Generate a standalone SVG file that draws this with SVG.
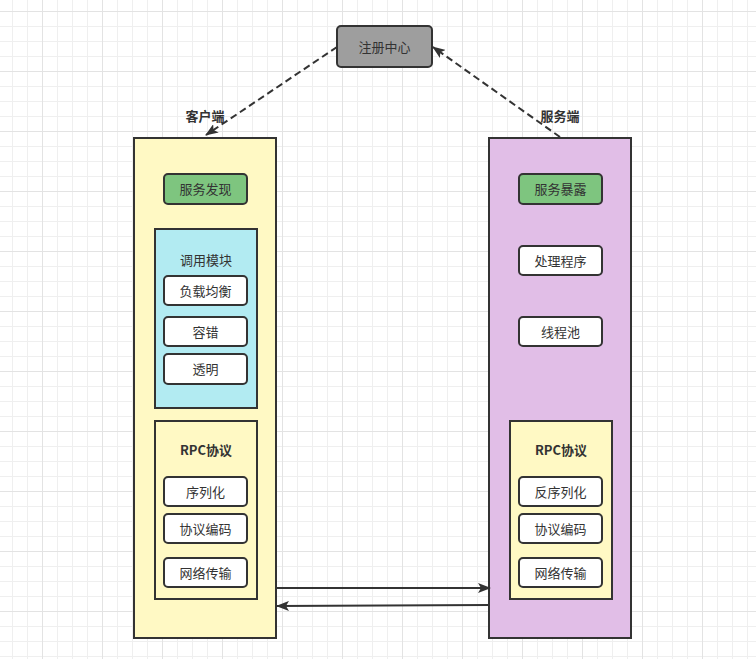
<svg xmlns="http://www.w3.org/2000/svg" width="756" height="659" viewBox="0 0 756 659">
<style>
.lbl{font-family:"Noto Sans CJK SC","Noto Sans",sans-serif;font-size:13px;fill:#333;text-anchor:middle;dominant-baseline:central}
.box{fill:#fff;stroke:#333;stroke-width:2}
.green{fill:#7ec57f;stroke:#333;stroke-width:2}
.col{stroke:#333;stroke-width:2}
.solid{fill:none;stroke:#333;stroke-width:2}
.dash{fill:none;stroke:#333;stroke-width:2;stroke-dasharray:7 4}
</style>
<defs>
<pattern id="grid" patternUnits="userSpaceOnUse" x="42" y="11" width="60" height="60">
<rect width="60" height="60" fill="#fff"/>
<g fill="#efefef">
<rect x="15" y="0" width="1" height="60"/><rect x="30" y="0" width="1" height="60"/><rect x="45" y="0" width="1" height="60"/>
<rect x="0" y="15" width="60" height="1"/><rect x="0" y="30" width="60" height="1"/><rect x="0" y="45" width="60" height="1"/>
</g>
<g fill="#e3e3e3">
<rect x="0" y="0" width="1" height="60"/><rect x="0" y="0" width="60" height="1"/>
</g>
</pattern>
<marker id="arr" viewBox="0 0 13 10" refX="12" refY="5" markerWidth="13" markerHeight="10" markerUnits="userSpaceOnUse" orient="auto">
<path d="M0,0 L13,5 L0,10 L3,5 z" fill="#333"/>
</marker>
</defs>
<rect width="756" height="659" fill="url(#grid)"/>

<g id="registry">
<rect x="337" y="26" width="95" height="41" rx="4" fill="#9e9e9e" stroke="#333" stroke-width="2"/>
<text class="lbl" x="384.5" y="46">注册中心</text>
</g>

<g id="client">
<rect class="col" x="134" y="138" width="142" height="500" fill="#fff9c4"/>
<text class="lbl" style="font-weight:bold" x="205" y="115.5">客户端</text>
</g>
<g id="client-discovery">
<rect class="green" x="164" y="174" width="83" height="30" rx="4"/>
<text class="lbl" x="205.5" y="188.5">服务发现</text>
</g>
<g id="invoke-module">
<rect x="155" y="229" width="102" height="179" fill="#b2ebf2" stroke="#333" stroke-width="2"/>
<text class="lbl" x="206" y="259.5">调用模块</text>
</g>
<g id="load-balance">
<rect class="box" x="164" y="276" width="83" height="29" rx="4"/>
<text class="lbl" x="205.5" y="290">负载均衡</text>
</g>
<g id="fault-tolerance">
<rect class="box" x="164" y="317" width="83" height="29" rx="4"/>
<text class="lbl" x="205.5" y="331">容错</text>
</g>
<g id="transparent">
<rect class="box" x="164" y="354" width="83" height="30" rx="4"/>
<text class="lbl" x="205.5" y="368.5">透明</text>
</g>
<g id="client-rpc">
<rect x="155" y="421" width="102" height="178" fill="#fff9c4" stroke="#333" stroke-width="2"/>
<text class="lbl" style="font-weight:bold" x="206" y="449.5">RPC协议</text>
</g>
<g id="serialize">
<rect class="box" x="164" y="477" width="83" height="29" rx="4"/>
<text class="lbl" x="205.5" y="491">序列化</text>
</g>
<g id="client-encode">
<rect class="box" x="164" y="514" width="83" height="29" rx="4"/>
<text class="lbl" x="205.5" y="528">协议编码</text>
</g>
<g id="client-network">
<rect class="box" x="164" y="558" width="83" height="29" rx="4"/>
<text class="lbl" x="205.5" y="572">网络传输</text>
</g>

<g id="server">
<rect class="col" x="489" y="138" width="142" height="500" fill="#e1bee7"/>
<text class="lbl" style="font-weight:bold" x="560" y="115.5">服务端</text>
</g>
<g id="server-expose">
<rect class="green" x="519" y="174" width="83" height="30" rx="4"/>
<text class="lbl" x="560.5" y="188.5">服务暴露</text>
</g>
<g id="handler">
<rect class="box" x="519" y="246" width="83" height="29" rx="4"/>
<text class="lbl" x="560.5" y="260">处理程序</text>
</g>
<g id="thread-pool">
<rect class="box" x="519" y="317" width="83" height="29" rx="4"/>
<text class="lbl" x="560.5" y="331">线程池</text>
</g>
<g id="server-rpc">
<rect x="510" y="421" width="102" height="178" fill="#fff9c4" stroke="#333" stroke-width="2"/>
<text class="lbl" style="font-weight:bold" x="561" y="449.5">RPC协议</text>
</g>
<g id="deserialize">
<rect class="box" x="519" y="477" width="83" height="29" rx="4"/>
<text class="lbl" x="560.5" y="491">反序列化</text>
</g>
<g id="server-encode">
<rect class="box" x="519" y="514" width="83" height="29" rx="4"/>
<text class="lbl" x="560.5" y="528">协议编码</text>
</g>
<g id="server-network">
<rect class="box" x="519" y="558" width="83" height="29" rx="4"/>
<text class="lbl" x="560.5" y="572">网络传输</text>
</g>

<g id="connectors">
<path class="dash" d="M337,47 L206,135" marker-end="url(#arr)"/>
<path class="dash" d="M560,137 L433,47" marker-end="url(#arr)"/>
<path class="solid" d="M277,588 L490,588" marker-end="url(#arr)"/>
<path class="solid" d="M489,605 L277,606" marker-end="url(#arr)"/>
</g>
</svg>
